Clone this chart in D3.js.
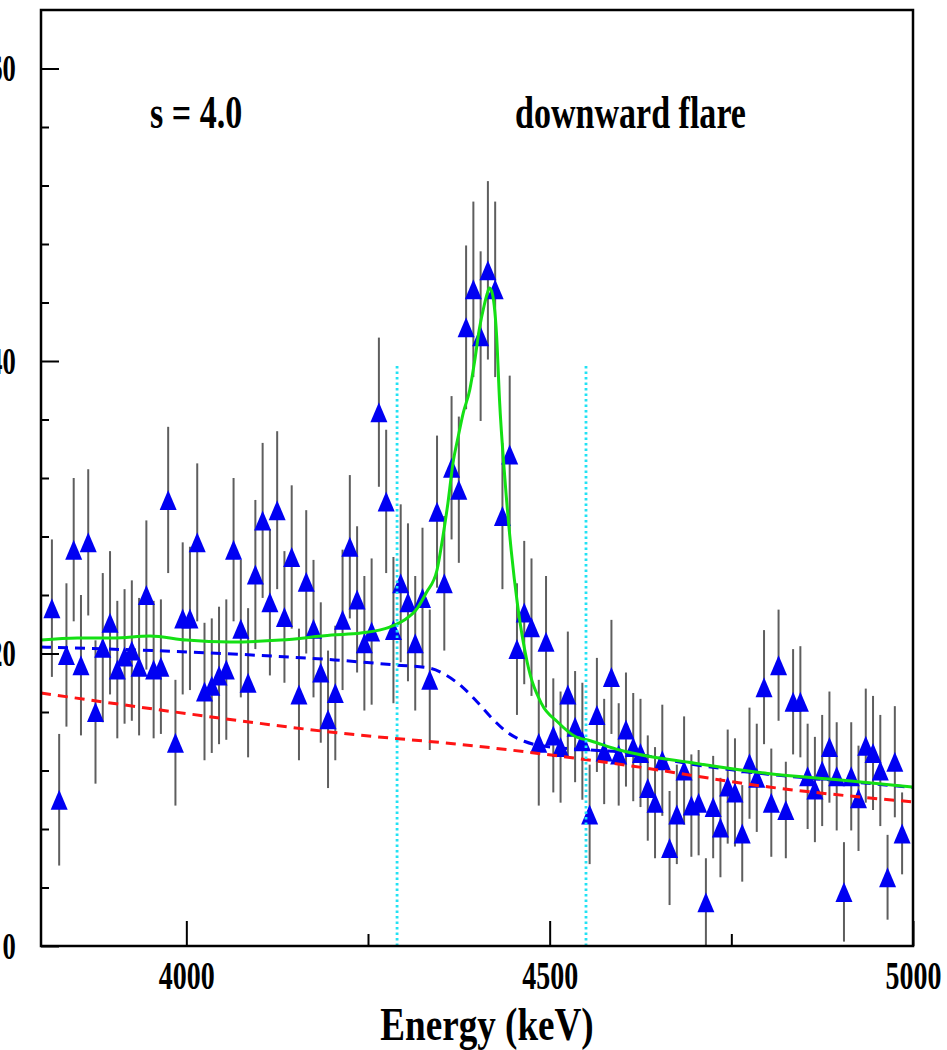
<!DOCTYPE html>
<html>
<head>
<meta charset="utf-8">
<script src="https://cdn.jsdelivr.net/npm/d3@7"></script>
<style>
  body { margin: 0; background: #fff; }
  svg text { font-family: "Liberation Serif", "Times New Roman", serif; font-weight: bold; }
</style>
</head>
<body>
<script>

// 10 keV bins, centres 3815 ... 4985
var energies = d3.range(3815, 4990, 10);

var counts = [
  23.1, 10.0, 19.9, 27.1, 19.2, 27.6, 16.0, 20.4, 22.1, 18.9,
  19.8, 20.2, 19.1, 24.0, 18.9, 19.1, 30.5, 13.9, 22.4, 22.4,
  27.6, 17.4, 17.8, 18.5, 18.9, 27.1, 21.7, 18.0, 25.4, 29.1,
  23.5, 29.8, 22.5, 26.6, 17.2, 24.9, 21.7, 18.7, 15.5, 17.3,
  22.3, 27.3, 23.7, 20.7, 21.5, 36.5, 30.4, 21.6, 24.8, 23.5,
  20.7, 23.8, 18.2, 29.7, 24.8, 32.7, 31.2, 42.3, 44.9, 41.7,
  46.2, 44.9, 29.4, 33.6, 20.3, 22.8, 21.8, 13.9, 20.8, 14.4,
  13.6, 17.2, 15.0, 14.0, 9.0, 15.8, 13.3, 18.4, 13.1, 14.8,
  13.6, 13.2, 10.8, 9.8, 12.7, 6.7, 9.0, 12.0, 9.6, 9.8,
  3.0, 9.5, 8.1, 10.9, 10.5, 7.7, 12.5, 11.5, 17.7, 9.8,
  19.2, 9.3, 16.7, 16.7, 11.6, 10.7, 12.0, 13.6, 11.6, 3.7,
  11.6, 10.1, 13.7, 13.2, 12.0, 4.7, 12.6, 7.7
];

var errors = [
  4.7, 4.5, 4.9, 4.9, 4.8, 5.0, 4.9, 5.1, 4.9, 4.7,
  4.6, 4.8, 4.7, 5.1, 4.7, 4.6, 5.0, 4.3, 5.2, 4.9,
  5.4, 4.7, 4.6, 4.7, 4.8, 4.9, 4.7, 5.1, 5.1, 5.3,
  5.0, 5.4, 4.5, 4.9, 4.5, 4.9, 4.7, 4.8, 4.7, 4.6,
  4.8, 4.9, 5.0, 4.6, 5.0, 5.1, 4.9, 5.0, 5.4, 5.4,
  4.6, 4.8, 4.8, 5.2, 4.6, 4.9, 5.0, 5.6, 6.0, 5.8,
  6.1, 6.0, 5.0, 5.4, 4.5, 4.9, 4.7, 4.3, 4.5, 3.9,
  3.8, 4.3, 3.8, 4.0, 3.4, 3.9, 3.6, 3.9, 3.5, 3.9,
  3.7, 3.7, 3.6, 3.8, 3.8, 3.9, 3.4, 3.7, 3.5, 3.6,
  3.0, 3.5, 3.4, 3.9, 3.7, 3.3, 3.8, 3.7, 3.9, 3.7,
  3.8, 3.3, 3.6, 3.8, 3.6, 3.6, 3.8, 3.8, 3.7, 3.4,
  3.7, 3.6, 3.9, 3.9, 3.8, 2.9, 3.8, 2.8
];

// full fit (green)
var fitE = [3800, 3850, 3900, 3950, 4000, 4060, 4130, 4200, 4240, 4280,
            4300, 4318, 4330, 4345, 4353, 4360, 4367, 4374, 4381, 4390,
            4397, 4403, 4410, 4414, 4417, 4420, 4427, 4431, 4438, 4447,
            4456, 4469, 4489, 4511, 4534, 4557, 4596, 4700, 4800, 4900, 5000];
var fitY = [20.92, 21.06, 21.06, 21.2, 20.92, 20.79, 20.92, 21.26, 21.4, 21.81,
            22.29, 23.11, 24.14, 25.71, 27.97, 30.29, 33.03, 34.8, 36.44, 38.02,
            40.07, 42.12, 43.83, 44.6, 45.0, 44.8, 41.71, 37.33, 32.2, 27.08,
            23.25, 19.42, 16.55, 15.32, 14.36, 14.02, 13.4, 12.5, 11.8, 11.35, 10.87];

// background with step (blue dashed)
var stepE = [3800, 4005, 4090, 4204, 4289, 4335, 4358, 4380, 4400, 4420,
             4442, 4465, 4483, 4550, 4600, 4700, 4800, 4900, 5000];
var stepY = [20.44, 20.1, 19.9, 19.56, 19.21, 19.0, 18.5, 17.7, 16.7, 15.6,
             14.6, 14.0, 13.74, 13.42, 13.25, 12.4, 11.75, 11.3, 10.83];

// smooth background (red dashed)
var bkgE = [3800, 4005, 4211, 4397, 4603, 4802, 5000];
var bkgY = [17.3, 15.86, 14.56, 13.68, 12.38, 10.87, 9.85];

var windowE = [4290, 4550];

var xMajor = [4000, 4500, 5000];
var xMinor = [4250, 4750];
var yMajor = [0, 20, 40, 60];
var yMinor = [4, 8, 12, 16, 24, 28, 32, 36, 44, 48, 52, 56];

var width = 947, height = 1050,
    margin = ({ top: 10, right: 34, bottom: 104, left: 41 });

var x = d3.scaleLinear()
    .domain([3800, 5000])
    .range([margin.left, width - margin.right]);

var y = d3.scaleLinear()
    .domain([0, 64])
    .range([height - margin.bottom, margin.top]);

var svg = d3.select("body").append("svg")
    .attr("width", width)
    .attr("height", height);

var data = energies.map((e, i) => ({ e: e, c: counts[i], err: errors[i] }));

// error bars
svg.append("g")
    .selectAll("line")
    .data(data)
    .join("line")
    .attr("x1", d => x(d.e))
    .attr("x2", d => x(d.e))
    .attr("y1", d => y(d.c - d.err))
    .attr("y2", d => y(d.c + d.err))
    .attr("stroke", "#5e5e5e")
    .attr("stroke-width", 2);

// triangles
var tw = 17, th = 20;
svg.append("g")
    .selectAll("path")
    .data(data)
    .join("path")
    .attr("transform", d => `translate(${x(d.e)},${y(d.c)})`)
    .attr("d", `M0,${-th / 2}L${tw / 2},${th / 2}L${-tw / 2},${th / 2}Z`)
    .attr("fill", "#0000f2");

function curve(ex, ey) {
    return d3.line()
        .x((d, i) => x(ex[i]))
        .y((d, i) => y(ey[i]))
        .curve(d3.curveMonotoneX)(ex);
}

svg.append("path")
    .attr("d", curve(bkgE, bkgY))
    .attr("fill", "none")
    .attr("stroke", "#ff1414")
    .attr("stroke-width", 3)
    .attr("stroke-dasharray", "10,7");

svg.append("path")
    .attr("d", curve(stepE, stepY))
    .attr("fill", "none")
    .attr("stroke", "#0000f2")
    .attr("stroke-width", 3)
    .attr("stroke-dasharray", "10,7");

svg.append("path")
    .attr("d", curve(fitE, fitY))
    .attr("fill", "none")
    .attr("stroke", "#14e014")
    .attr("stroke-width", 3);

// fit window
svg.append("g")
    .selectAll("line")
    .data(windowE)
    .join("line")
    .attr("x1", d => x(d))
    .attr("x2", d => x(d))
    .attr("y1", y(0))
    .attr("y2", y(39.8))
    .attr("stroke", "#22e2f4")
    .attr("stroke-width", 2.8)
    .attr("stroke-dasharray", "2.5,3");

// axes
var xAxis = g => g
    .attr("transform", `translate(0,${y(0)})`)
    .call(d3.axisBottom(x).tickValues(xMajor).tickFormat(d3.format("d"))
        .tickSizeInner(-25).tickSizeOuter(0).tickPadding(15))
    .call(g => g.select(".domain").remove())
    .call(g => g.selectAll("line").attr("stroke", "#000").attr("stroke-width", 2))
    .call(g => g.selectAll("text")
        .attr("font-family", "Liberation Serif, serif")
        .attr("font-weight", "bold")
        .attr("font-size", 40)
        .attr("fill", "#000")
        .attr("transform", "scale(0.7,1)"));

var xMinorAxis = g => g
    .attr("transform", `translate(0,${y(0)})`)
    .call(d3.axisBottom(x).tickValues(xMinor).tickFormat("")
        .tickSizeInner(-12).tickSizeOuter(0))
    .call(g => g.select(".domain").remove())
    .call(g => g.selectAll("line").attr("stroke", "#000").attr("stroke-width", 2));

var yAxis = g => g
    .attr("transform", `translate(${margin.left},0)`)
    .call(d3.axisLeft(y).tickValues(yMajor).tickFormat(d3.format("d"))
        .tickSizeInner(-18).tickSizeOuter(0).tickPadding(36))
    .call(g => g.select(".domain").remove())
    .call(g => g.selectAll("line").attr("stroke", "#000").attr("stroke-width", 2))
    .call(g => g.selectAll("text")
        .attr("font-family", "Liberation Serif, serif")
        .attr("font-weight", "bold")
        .attr("font-size", 38)
        .attr("fill", "#000")
        .attr("transform", "scale(0.7,1)"));

var yMinorAxis = g => g
    .attr("transform", `translate(${margin.left},0)`)
    .call(d3.axisLeft(y).tickValues(yMinor).tickFormat("")
        .tickSizeInner(-8).tickSizeOuter(0))
    .call(g => g.select(".domain").remove())
    .call(g => g.selectAll("line").attr("stroke", "#000").attr("stroke-width", 2));

svg.append("g").call(xAxis);
svg.append("g").call(xMinorAxis);
svg.append("g").call(yAxis);
svg.append("g").call(yMinorAxis);

// frame
svg.append("rect")
    .attr("x", margin.left)
    .attr("y", margin.top)
    .attr("width", width - margin.left - margin.right)
    .attr("height", height - margin.top - margin.bottom)
    .attr("fill", "none")
    .attr("stroke", "#000")
    .attr("stroke-width", 2.5);

// labels
function label(txt, cx, by, size, sx, anchor) {
    svg.append("text")
        .attr("transform", `translate(${cx},${by}) scale(${sx},1)`)
        .attr("text-anchor", anchor)
        .attr("font-size", size)
        .attr("fill", "#000")
        .text(txt);
}

label("s = 4.0", 150, 128, 46, 0.74, "start");
label("downward flare", 515, 128, 46, 0.74, "start");
label("Energy (keV)", 487, 1040, 47, 0.79, "middle");

</script>
</body>
</html>
